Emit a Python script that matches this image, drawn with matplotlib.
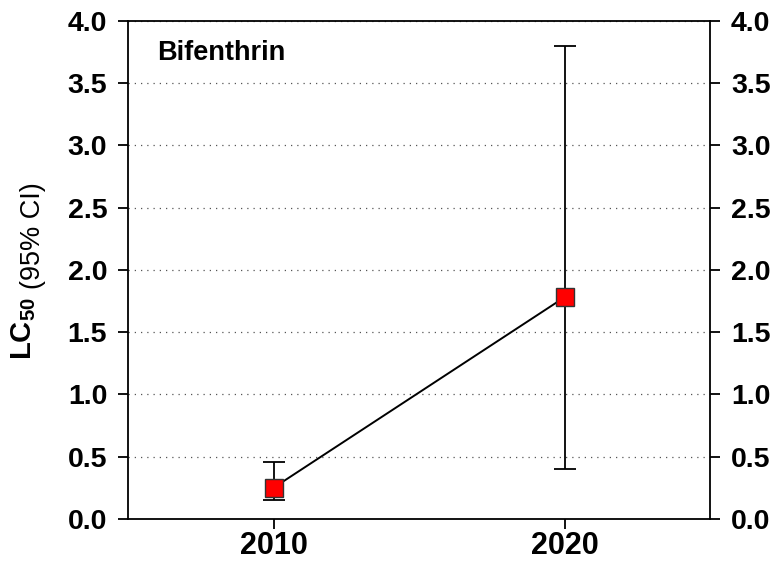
import matplotlib
matplotlib.use("Agg")
import matplotlib.pyplot as plt
import numpy as np

years = [2010, 2020]
lc50 = [0.25, 1.78]
ci_low = [0.15, 0.40]
ci_high = [0.46, 3.80]
yticks = [0.0, 0.5, 1.0, 1.5, 2.0, 2.5, 3.0, 3.5, 4.0]
compound = "Bifenthrin"

plt.rcParams['font.family'] = ['Liberation Sans', 'DejaVu Sans']
plt.rcParams['mathtext.fontset'] = 'custom'
plt.rcParams['mathtext.rm'] = 'Liberation Sans'
plt.rcParams['mathtext.bf'] = 'Liberation Sans:bold'

fig = plt.figure(figsize=(7.76, 5.64), dpi=100)
ax = fig.add_axes([0.165, 0.080, 0.750, 0.883])

lc = np.array(lc50)
yerr = np.vstack([lc - np.array(ci_low), np.array(ci_high) - lc])

for y in yticks[1:]:
    ax.axhline(y, color='#555555', lw=0.9, ls=(0, (1, 4)), zorder=1)

ax.plot(years, lc50, color='black', lw=1.4, zorder=2)
ax.errorbar(years, lc50, yerr=yerr, fmt='none', ecolor='black',
            elinewidth=1.3, capsize=8, capthick=1.3, zorder=3)
ax.plot(years, lc50, ls='none', marker='s', markersize=13.5,
        markerfacecolor='#ff0000', markeredgecolor='#333333',
        markeredgewidth=1.0, zorder=4)

ax.set_xlim(2005, 2025)
ax.set_ylim(0, 4.0)
ax.set_xticks(years)
ax.set_xticklabels([str(y) for y in years], fontsize=22, fontweight='bold')
ax.set_yticks(yticks)
ax.set_yticklabels([f"{v:.1f}" for v in yticks], fontsize=20.5, fontweight='bold')
ax.tick_params(axis='y', which='both', direction='out', length=7, width=1.3,
               left=True, right=True, labelleft=True, labelright=True, pad=8)
ax.tick_params(axis='x', direction='out', length=7, width=1.3, top=False, pad=2)
for s in ax.spines.values():
    s.set_linewidth(1.3)

ax.text(0.050, 0.935, compound, transform=ax.transAxes, fontsize=19.5,
        fontweight='bold', ha='left', va='center')

fig.text(0.031, 0.417, r"LC$_{\mathbf{50}}$", rotation=90, fontsize=21,
         fontweight='bold', ha='center', va='center')
fig.text(0.043, 0.582, "(95% CI)", rotation=90, fontsize=19.5,
         ha='center', va='center')

fig.savefig("out.png", dpi=100)
